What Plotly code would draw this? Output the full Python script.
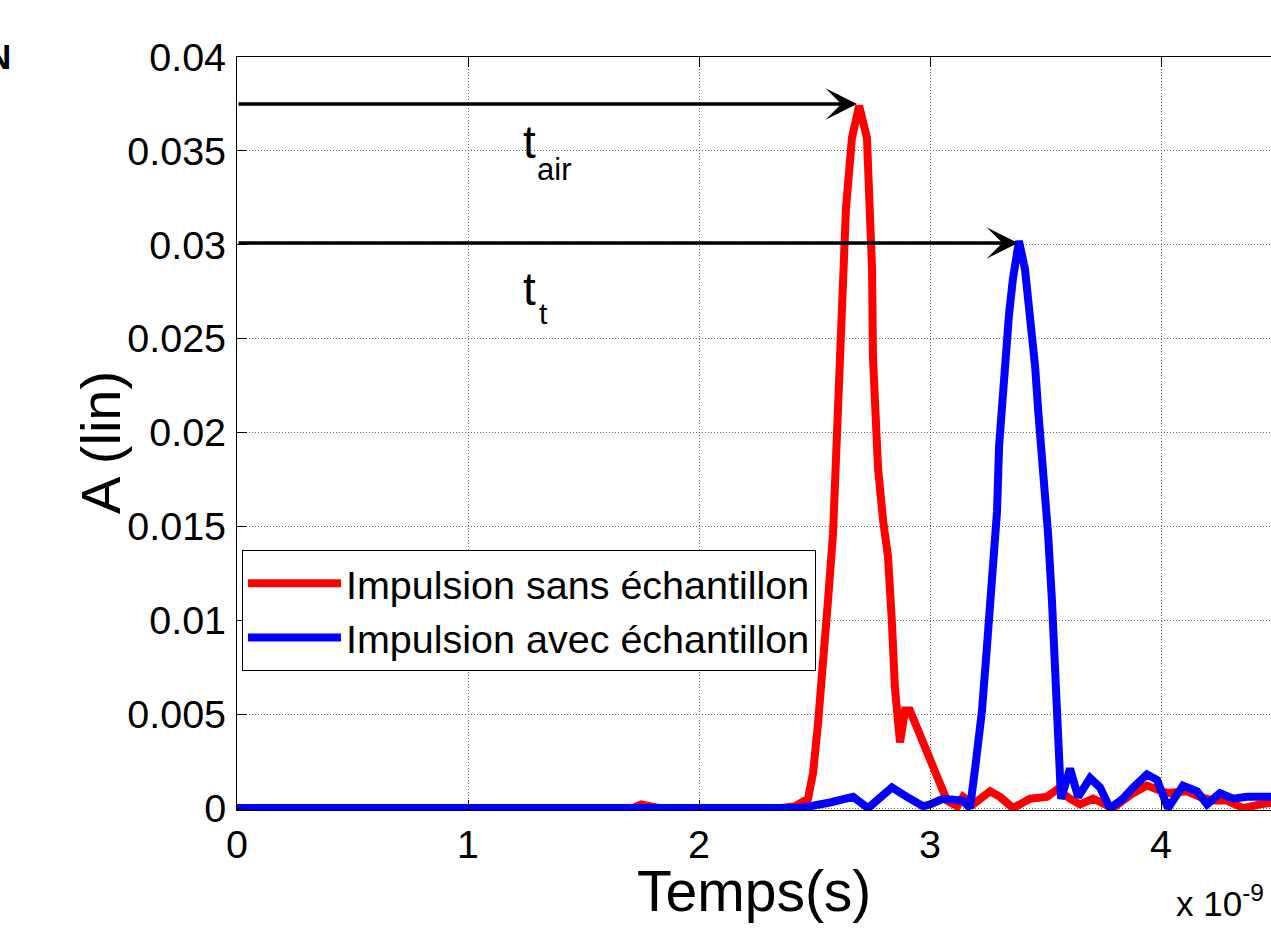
import plotly.graph_objects as go

# time in units of 1e-9 s
t_red = [0.0, 1.0, 1.714, 1.749, 1.788, 1.83, 2.351, 2.416, 2.472, 2.494, 2.515, 2.537, 2.558, 2.580,
         2.589, 2.602, 2.615, 2.623, 2.636, 2.662, 2.693, 2.727, 2.740, 2.749, 2.753, 2.762,
         2.775, 2.797, 2.818, 2.835, 2.848, 2.870, 2.892, 2.913, 2.944, 2.987, 3.030, 3.074,
         3.117, 3.143, 3.186, 3.260, 3.303, 3.359, 3.433, 3.506, 3.550, 3.606, 3.649, 3.706,
         3.792, 3.866, 3.939, 4.026, 4.113, 4.169, 4.225, 4.286, 4.355, 4.429, 4.494]
a_red = [0.0, 0.0, 0.0, 0.0002, 0.0001, 0.0, 0.0, 0.0001, 0.0005, 0.0019, 0.0045, 0.0075, 0.0110, 0.0146,
         0.0175, 0.0216, 0.0251, 0.0287, 0.0319, 0.0357, 0.0374, 0.0357, 0.0315, 0.0287, 0.0240, 0.0216,
         0.0181, 0.0153, 0.0134, 0.0099, 0.0064, 0.0035, 0.0052, 0.0052, 0.0042, 0.0031, 0.0017, 0.0004,
         0.0001, 0.0006, 0.0002, 0.0009, 0.0006, 0.0, 0.0005, 0.0006, 0.0010, 0.0005, 0.0002, 0.0005,
         0.0, 0.0007, 0.0012, 0.0008, 0.0009, 0.0006, 0.0004, 0.0004, 0.0, 0.0002, 0.0003]

t_blue = [0.0, 1.0, 2.0, 2.437, 2.567, 2.667, 2.732, 2.835, 2.900, 2.970, 3.000, 3.056, 3.143, 3.173,
          3.195, 3.225, 3.247, 3.268, 3.290, 3.299, 3.312, 3.325, 3.342, 3.359, 3.385, 3.411,
          3.433, 3.455, 3.468, 3.489, 3.511, 3.528, 3.541, 3.554, 3.567, 3.606, 3.641, 3.693,
          3.736, 3.779, 3.835, 3.879, 3.939, 3.983, 4.030, 4.095, 4.156, 4.199, 4.255, 4.312,
          4.372, 4.494]
a_blue = [0.0, 0.0, 0.0, 0.0, 0.0003, 0.0006, 0.0, 0.0011, 0.0006, 0.0001, 0.0002, 0.0005, 0.0004, 0.0,
          0.0021, 0.0052, 0.0087, 0.0122, 0.0158, 0.0193, 0.0216, 0.0235, 0.0263, 0.0282, 0.0302, 0.0287,
          0.0263, 0.0235, 0.0212, 0.0181, 0.0146, 0.0110, 0.0075, 0.0040, 0.0005, 0.0021, 0.0006, 0.0016,
          0.0011, 0.0, 0.0005, 0.0011, 0.0018, 0.0015, 0.0, 0.0012, 0.0009, 0.0002, 0.0008, 0.0005,
          0.0006, 0.0006]

x_ticks = [0, 1, 2, 3, 4]
y_ticks = [0, 0.005, 0.01, 0.015, 0.02, 0.025, 0.03, 0.035, 0.04]
y_ticktext = ["0", "0.005", "0.01", "0.015", "0.02", "0.025", "0.03", "0.035", "0.04"]

series_names = ["Impulsion sans échantillon", "Impulsion avec échantillon"]
peak_air = (2.684, 0.0375)
peak_t = (3.381, 0.0301)

FONT = "Liberation Sans, Arial, sans-serif"

fig = go.Figure()
fig.add_trace(go.Scatter(x=t_red, y=a_red, mode="lines", name=series_names[0],
                         line=dict(color="#ff0000", width=8)))
fig.add_trace(go.Scatter(x=t_blue, y=a_blue, mode="lines", name=series_names[1],
                         line=dict(color="#0000ff", width=8)))

axis_common = dict(
    showline=True, linecolor="black", linewidth=1,
    ticks="inside", ticklen=10, tickwidth=1, tickcolor="black",
    showgrid=True, gridcolor="#666666", gridwidth=1, griddash="1px,2px",
    zeroline=False, tickfont=dict(family=FONT, size=39.5, color="black"),
)

fig.update_layout(
    width=1271, height=929, autosize=False,
    margin=dict(l=237, r=0, t=57, b=119),
    paper_bgcolor="white", plot_bgcolor="white",
    font=dict(family=FONT, color="black"),
    xaxis=dict(range=[0, 4.476], tickvals=x_ticks, mirror="ticks",
               ticklabelstandoff=0, **axis_common),
    yaxis=dict(range=[-0.0001, 0.04], tickvals=y_ticks, ticktext=y_ticktext,
               ticklabelstandoff=2, **axis_common),
    legend=dict(x=0.0048, y=0.3453, xanchor="left", yanchor="top",
                bgcolor="white", bordercolor="black", borderwidth=1, itemwidth=93,
                font=dict(family=FONT, size=39.5, color="black")),
    showlegend=True,
)

# axis titles
fig.add_annotation(x=0.5, y=-0.1529, xref="paper", yref="paper", xanchor="center", yanchor="bottom",
                   text="Temps(s)", showarrow=False,
                   font=dict(family=FONT, size=57, color="black"))
fig.add_annotation(x=-0.1325, y=0.4887, xref="paper", yref="paper", xanchor="center", yanchor="middle",
                   text="A (lin)", textangle=-90, showarrow=False,
                   font=dict(family=FONT, size=56, color="black"))

# arrows
for (px, py) in (peak_air, peak_t):
    fig.add_annotation(x=px, y=py, ax=0, ay=py, xref="x", yref="y", axref="x", ayref="y",
                       text="", showarrow=True, arrowhead=3, arrowsize=1.5, arrowwidth=3.5,
                       arrowcolor="black", standoff=0, startstandoff=0)

# t_air and t_t labels (main letter + subscript)
label_main = [(1.2294, 0.03396, "t"), (1.2294, 0.02616, "t")]
label_sub = [(1.290, 0.03296, "air", 31), (1.2987, 0.02538, "t", 30)]
for (lx, ly, txt) in label_main:
    fig.add_annotation(x=lx, y=ly, xref="x", yref="y", xanchor="left", yanchor="bottom",
                       text=txt, showarrow=False, font=dict(family=FONT, size=46, color="black"))
for (lx, ly, txt, fs) in label_sub:
    fig.add_annotation(x=lx, y=ly, xref="x", yref="y", xanchor="left", yanchor="bottom",
                       text=txt, showarrow=False, font=dict(family=FONT, size=fs, color="black"))

fig.add_annotation(x=0.906, y=-0.1527, xref="paper", yref="paper", xanchor="left", yanchor="bottom",
                   text="x 10<sup>-9</sup>", showarrow=False,
                   font=dict(family=FONT, size=35, color="black"))
fig.add_annotation(x=-0.2166, y=1.0013, xref="paper", yref="paper", xanchor="right", yanchor="middle",
                   text="<b>N</b>", showarrow=False,
                   font=dict(family=FONT, size=35, color="black"))

fig.write_html("out.html", config={"displayModeBar": False},
               post_script="document.body.style.margin='0';")
